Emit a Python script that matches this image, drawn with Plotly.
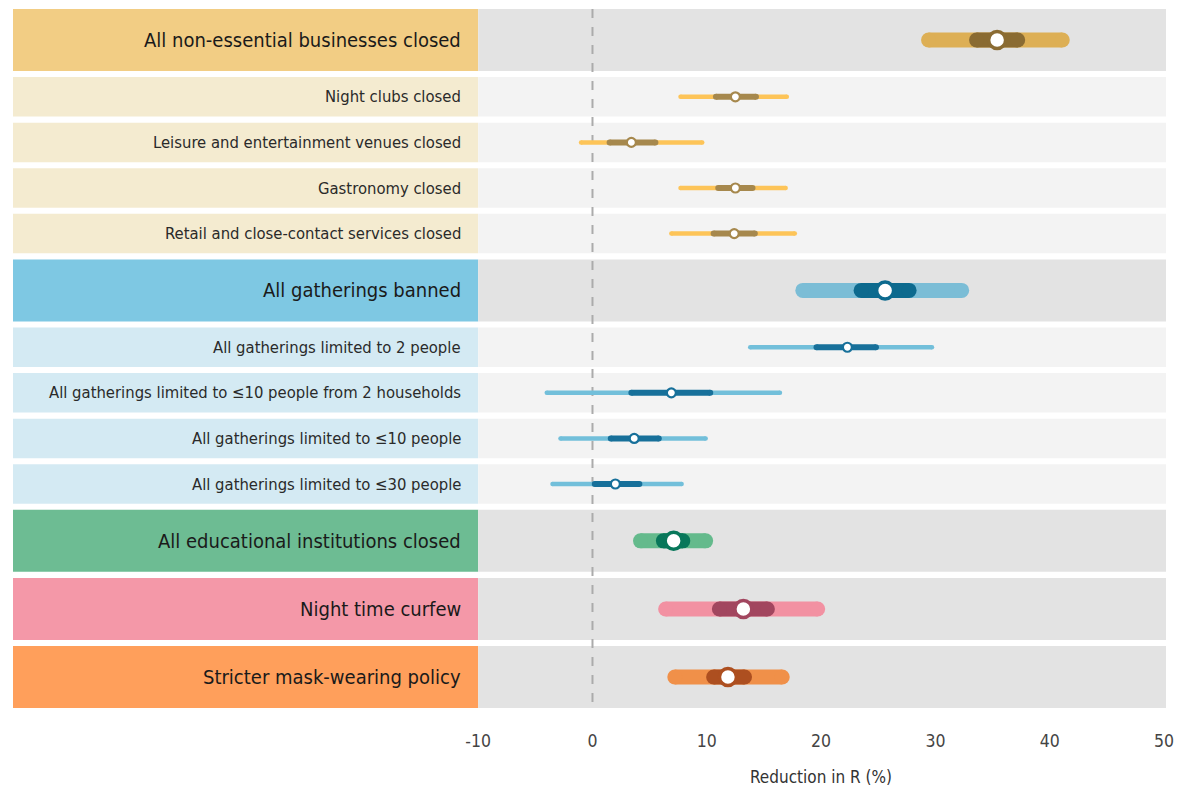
import plotly.graph_objects as go

# ---------------- data ----------------
labels = [
    "All non-essential businesses closed",
    "Night clubs closed",
    "Leisure and entertainment venues closed",
    "Gastronomy closed",
    "Retail and close-contact services closed",
    "All gatherings banned",
    "All gatherings limited to 2 people",
    "All gatherings limited to ≤10 people from 2 households",
    "All gatherings limited to ≤10 people",
    "All gatherings limited to ≤30 people",
    "All educational institutions closed",
    "Night time curfew",
    "Stricter mask-wearing policy",
]
level = ["main", "sub", "sub", "sub", "sub", "main", "sub", "sub", "sub", "sub", "main", "main", "main"]
group = ["business", "business", "business", "business", "business",
         "gathering", "gathering", "gathering", "gathering", "gathering",
         "education", "curfew", "mask"]
median = [35.4, 12.5, 3.4, 12.5, 12.4, 25.6, 22.3, 6.9, 3.65, 2.0, 7.1, 13.2, 11.85]
lo50 = [33.6, 10.8, 1.5, 11.0, 10.6, 23.5, 19.6, 3.4, 1.6, 0.2, 6.2, 11.1, 10.6]
hi50 = [37.2, 14.3, 5.5, 14.0, 14.2, 27.7, 24.8, 10.3, 5.8, 4.1, 7.9, 15.3, 13.3]
lo95 = [29.4, 7.7, -1.0, 7.7, 6.9, 18.4, 13.8, -4.0, -2.8, -3.5, 4.2, 6.4, 7.2]
hi95 = [41.1, 17.0, 9.6, 16.9, 17.7, 32.3, 29.7, 16.4, 9.9, 7.8, 9.9, 19.7, 16.6]

tick_vals = [-10, 0, 10, 20, 30, 40, 50]
axis_title = "Reduction in R (%)"

# ---------------- styles ----------------
colors = {
    "business": dict(label_main="#F2CD84", label_sub="#F4EBD0",
                     wide_main="#DDAF55", dark_main="#8A6B32",
                     wide_sub="#FDC458", dark_sub="#A6884D"),
    "gathering": dict(label_main="#7EC8E3", label_sub="#D4EAF3",
                      wide_main="#7BBDD6", dark_main="#0D6A8E",
                      wide_sub="#72BFDA", dark_sub="#17709A"),
    "education": dict(label_main="#6DBC93", wide_main="#64BA8C", dark_main="#08775A"),
    "curfew": dict(label_main="#F498A8", wide_main="#F291A2", dark_main="#A2465F"),
    "mask": dict(label_main="#FF9F5B", wide_main="#F09049", dark_main="#AD4F20"),
}
bg_main = "#E3E3E3"
bg_sub = "#F3F3F3"
FONT = "DejaVu Sans Condensed, Liberation Sans Narrow, Roboto, sans-serif"

W, H = 1183, 794
ml, mr, mt, mb = 13, 15, 9, 86
px_per_unit = 11.45
x_left = -10 - 466 / px_per_unit
x_right = 50 + 2 / px_per_unit
H_MAIN, H_SUB, GAP = 62.0, 39.5, 6.1

# row layout (y in pixel units from the top of the plot area)
rows = []
y = 0.0
for i, lv in enumerate(level):
    h = H_MAIN if lv == "main" else H_SUB
    rows.append((y, y + h))
    y += h + GAP
y_total = y - GAP
plot_h = H - mt - mb

fig = go.Figure()
shapes = []
annotations = []

for i, (y0, y1) in enumerate(rows):
    lv = level[i]
    c = colors[group[i]]
    shapes.append(dict(type="rect", xref="x", yref="y", x0=x_left, x1=-10, y0=y0, y1=y1,
                       fillcolor=c["label_" + lv], line=dict(width=0), layer="below"))
    shapes.append(dict(type="rect", xref="x", yref="y", x0=-10, x1=x_right, y0=y0, y1=y1,
                       fillcolor=bg_main if lv == "main" else bg_sub, line=dict(width=0), layer="below"))
    annotations.append(dict(x=-10, y=(y0 + y1) / 2, xref="x", yref="y", text=labels[i],
                            showarrow=False, xanchor="right", yanchor="middle", xshift=-15,
                            font=dict(family=FONT, size=20 if lv == "main" else 16.5,
                                      color="#1A1A1A" if lv == "main" else "#2A2A2A")))

shapes.append(dict(type="line", xref="x", yref="y", x0=0, x1=0, y0=0, y1=y_total,
                   line=dict(color="#ABABAB", width=2, dash="dash"), layer="below"))

for i, (y0, y1) in enumerate(rows):
    lv = level[i]
    c = colors[group[i]]
    yc = (y0 + y1) / 2
    w_wide = 15 if lv == "main" else 4.5
    w_dark = 15 if lv == "main" else 6
    msize = 17 if lv == "main" else 9
    mline = 3.5 if lv == "main" else 2.2
    wide_c = c["wide_" + lv]
    dark_c = c["dark_" + lv]
    fig.add_trace(go.Scatter(x=[lo95[i], hi95[i]], y=[yc, yc], mode="lines+markers",
                             line=dict(color=wide_c, width=w_wide),
                             marker=dict(size=w_wide, color=wide_c, line=dict(width=0)),
                             hoverinfo="skip", showlegend=False))
    fig.add_trace(go.Scatter(x=[lo50[i], hi50[i]], y=[yc, yc], mode="lines+markers",
                             line=dict(color=dark_c, width=w_dark),
                             marker=dict(size=w_dark, color=dark_c, line=dict(width=0)),
                             hoverinfo="skip", showlegend=False))
    fig.add_trace(go.Scatter(x=[median[i]], y=[yc], mode="markers",
                             marker=dict(size=msize, color="white", line=dict(color=dark_c, width=mline)),
                             hoverinfo="skip", showlegend=False))

annotations.append(dict(x=20, y=-(777 - (H - mb)) / plot_h, xref="x", yref="paper",
                        text=axis_title, showarrow=False, xanchor="center", yanchor="middle",
                        font=dict(family=FONT, size=17, color="#333333")))

fig.update_layout(
    width=W, height=H,
    margin=dict(l=ml, r=mr, t=mt, b=mb),
    paper_bgcolor="white", plot_bgcolor="white",
    shapes=shapes, annotations=annotations,
    showlegend=False, hovermode=False,
    xaxis=dict(range=[x_left, x_right], tickvals=tick_vals, ticktext=[str(v) for v in tick_vals],
               showgrid=False, zeroline=False, showline=False, ticks="",
               tickfont=dict(family=FONT, size=17.5, color="#444444"), ticklabelstandoff=20,
               fixedrange=True),
    yaxis=dict(range=[y_total, 0], showgrid=False, zeroline=False, showline=False,
               showticklabels=False, ticks="", fixedrange=True),
)

fig.write_html("out.html", config={"displayModeBar": False, "staticPlot": True},
               post_script="document.body.style.margin='0px';document.body.style.overflow='hidden';")
